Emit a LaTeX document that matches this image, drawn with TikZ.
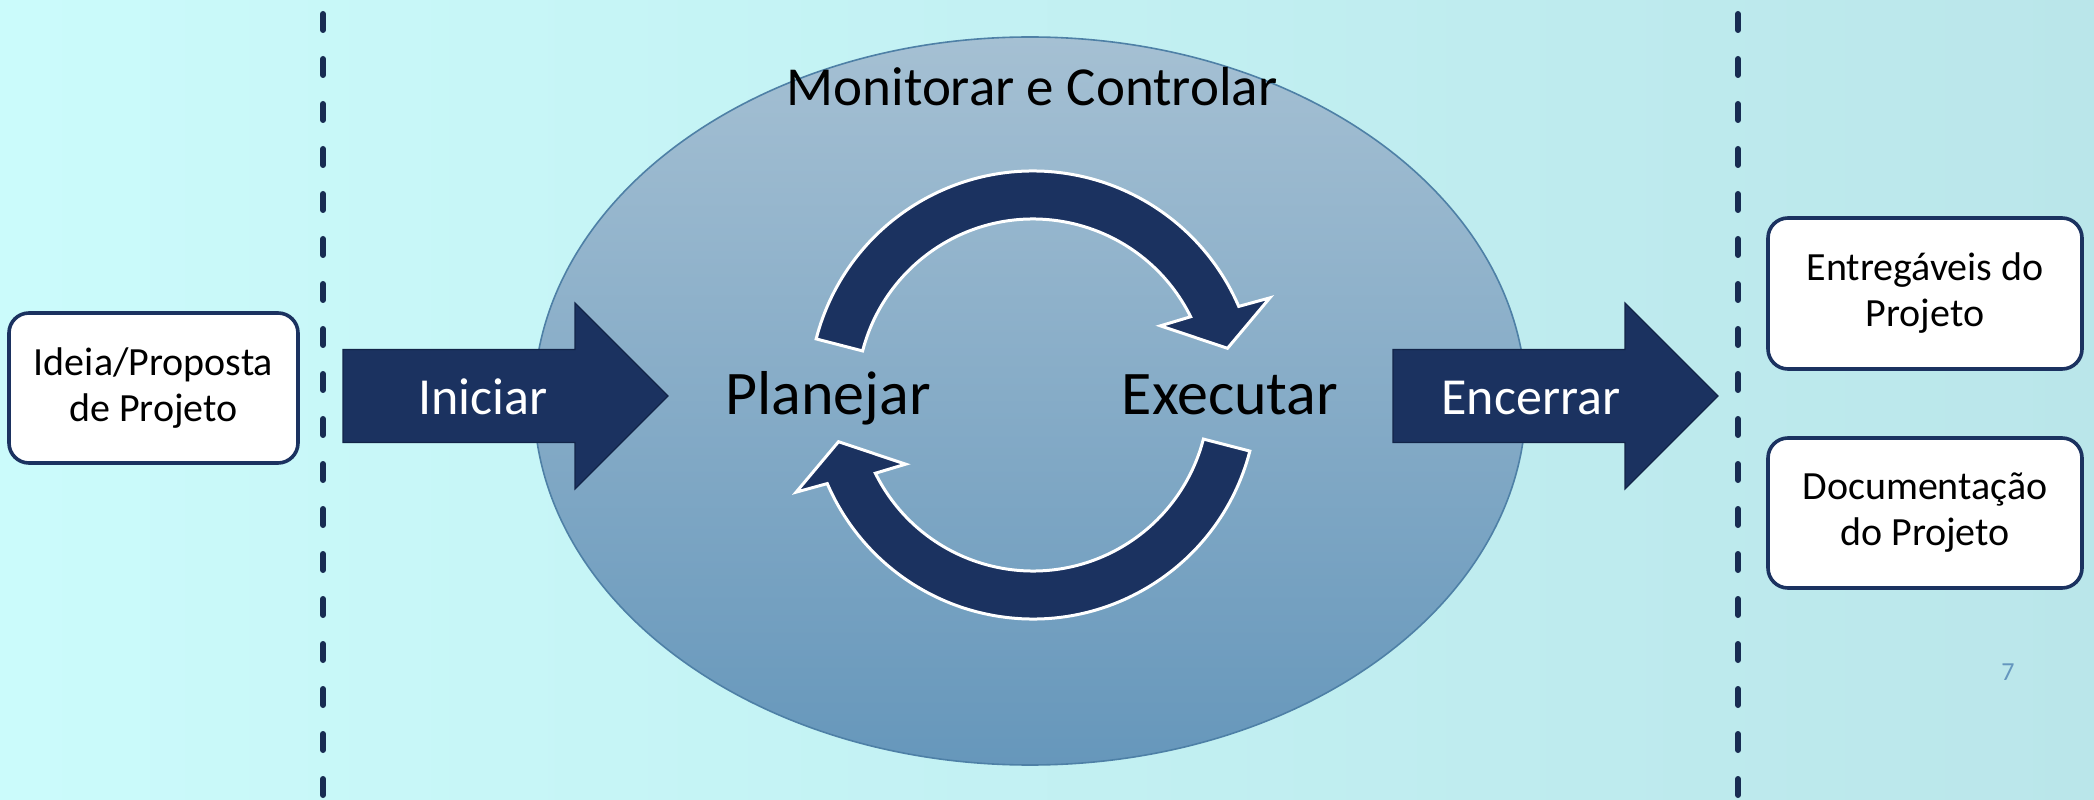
\documentclass[tikz,border=0pt]{standalone}
\usepackage{fontspec}
\setmainfont{Carlito}
\usetikzlibrary{calc,shapes.geometric}
\definecolor{navy}{RGB}{27,50,96}
\definecolor{navyedge}{RGB}{18,36,72}
\definecolor{dashnavy}{RGB}{24,44,82}
\definecolor{bgL}{RGB}{203,251,251}
\definecolor{bgR}{RGB}{186,230,234}
\definecolor{ellTop}{RGB}{165,192,211}
\definecolor{ellBot}{RGB}{102,151,187}
\definecolor{ellEdge}{RGB}{78,128,166}
\definecolor{pagenum}{RGB}{100,150,190}
\begin{document}
\begin{tikzpicture}[x=0.5pt,y=0.5pt,
  box/.style={draw=navy, line width=1.8pt, fill=white, rounded corners=10pt, align=center,
              font=\fontsize{20}{23}\selectfont, inner sep=0pt},
  blockarrow/.style={fill=navy, draw=navyedge, line width=0.6pt, line join=miter},
  cyclearrow/.style={fill=navy, draw=white, line width=1.5pt, line join=miter},
  dashseg/.style={draw=dashnavy, line width=3pt, line cap=round},
  steplabel/.style={text=white, font=\fontsize{26}{30}\selectfont, anchor=base, inner sep=0pt},
  phase/.style={text=black, font=\fontsize{31}{36}\selectfont, anchor=base, inner sep=0pt}
]
\useasboundingbox (0,0) rectangle (2094,799);
\shade[left color=bgL, right color=bgR] (0,0) rectangle (2094,799);

% dashed separators
\foreach \k in {0,...,17} {
  \draw[dashseg] (323,{799-14-45*\k}) -- (323,{799-30-45*\k});
  \draw[dashseg] (1738,{799-14-45*\k}) -- (1738,{799-30-45*\k});
}

% monitor & control ellipse
\node[ellipse, draw=ellEdge, line width=0.8pt, top color=ellTop, bottom color=ellBot,
      minimum width=496pt, minimum height=364pt, inner sep=0pt] (mc) at (1030,398) {};
\node[font=\fontsize{27.5}{32}\selectfont, anchor=base, inner sep=0pt] (mctext) at (1032,693) {Monitorar e Controlar};

% block arrows
\draw[blockarrow] (343,356.5) -- (575,356.5) -- (575,310) -- (668,403) -- (575,496) -- (575,449.5) -- (343,449.5) -- cycle;
\draw[blockarrow] (1393,356.5) -- (1625,356.5) -- (1625,310) -- (1718,403) -- (1625,496) -- (1625,449.5) -- (1393,449.5) -- cycle;
\node[steplabel] (iniciar) at (483,384) {Iniciar};
\node[steplabel] (encerrar) at (1531,384) {Encerrar};

% cycle arrows
\coordinate (C) at (1033,404);
\draw[cyclearrow] ($(C)+(165.5:224)$) arc[start angle=165.5, end angle=23.3, radius=224]
  -- ($(C)+(22.3:256)$) -- ($(C)+(13.5:200)$) -- ($(C)+(28.5:145)$) -- ($(C)+(26.4:176)$)
  arc[start angle=26.4, end angle=165.5, radius=176] -- cycle;
\draw[cyclearrow] ($(C)+(-14.5:224)$) arc[start angle=-14.5, end angle=-156.7, radius=224]
  -- ($(C)+(202.3:256)$) -- ($(C)+(193.5:200)$) -- ($(C)+(208.5:145)$) -- ($(C)+(206.4:176)$)
  arc[start angle=206.4, end angle=345.5, radius=176] -- cycle;

\node[phase] (planejar) at (828,385) {Planejar};
\node[phase] (executar) at (1230,385) {Executar};

% boxes
\node[box, minimum width=144.5pt, minimum height=75pt] (idea) at (153.5,411) {Ideia/Proposta\\de Projeto};
\node[box, minimum width=157pt, minimum height=75.5pt] (entreg) at (1925,505.5) {Entregáveis do\\Projeto};
\node[box, minimum width=157pt, minimum height=75pt] (docs) at (1925,286) {Documentação\\do Projeto};

\node[text=pagenum, font=\fontsize{13}{15}\selectfont, inner sep=0pt] (pg) at (2008,127) {7};
\end{tikzpicture}
\end{document}
